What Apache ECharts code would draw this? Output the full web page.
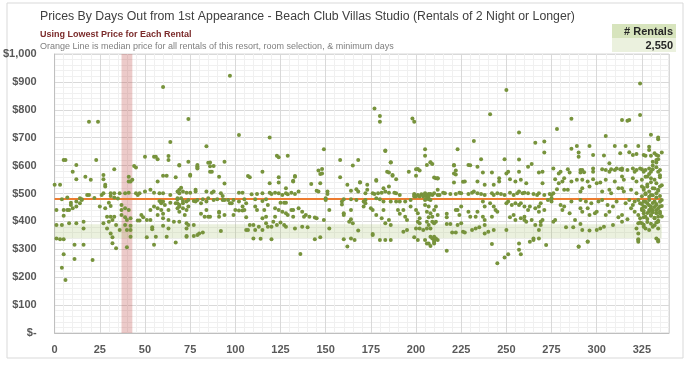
<!DOCTYPE html>
<html>
<head>
<meta charset="utf-8">
<script src="https://cdn.jsdelivr.net/npm/echarts@6/dist/echarts.min.js"></script>
<style>
  html, body { margin: 0; padding: 0; background: #fff; }
  #chart { width: 690px; height: 365px; }
</style>
</head>
<body>
<div id="chart"></div>
<script>
const titleText = 'Prices By Days Out from 1st Appearance - Beach Club Villas Studio (Rentals of 2 Night or Longer)'
const subTitle1 = 'Using Lowest Price for Each Rental'
const subTitle2 = 'Orange Line is median price for all rentals of this resort, room selection, & minimum days'
const rentalCount = '2,550'

const medianPrice = 480
const medianDays = [0, 336]
const typicalBand = [340, 390]
const highlightDays = [37, 43]

// [days out, price]
const rentals = [
  [19,757],[24,757],[97,922],[60,882],[74,767],[64,685],[84,669],[102,710],[33,587],[23,620],[12,602],[45,593],
  [50,632],[55,632],[56,632],[57,623],[63,634],[63,620],[62,564],[60,564],[67,558],[69,600],[75,564],[74,614],
  [79,598],[79,592],[85,610],[86,598],[87,578],[91,560],[94,536],[94,614],
  [5,620],[6,620],[10,578],[17,560],[12,551],[20,549],[0,531],[3,531],[27,566],[27,551],[28,531],[28,525],
  [26,495],[27,501],[7,486],[18,495],[19,495],[14,483],[15,479],[31,501],[31,491],[33,501],[33,486],[36,501],
  [39,501],[41,503],[41,543],[42,543],[43,549],[41,560],[44,599],[45,501],[46,495],[47,501],[57,543],[53,513],
  [50,507],[55,503],[58,501],[60,501],[64,495],[69,513],[69,501],[4,479],[22,484],[35,482],
  [1,441],[5,441],[7,441],[8,441],[9,459],[9,467],[10,447],[12,471],[15,477],[14,465],[12,453],[5,420],
  [1,387],[4,387],[8,393],[12,393],[16,399],[16,375],[1,339],[3,336],[5,336],[11,316],[16,316],[5,282],
  [4,234],[6,190],[11,265],[21,262],[25,453],[28,447],[30,467],[31,455],[29,417],[31,417],[33,417],[30,399],
  [32,405],[34,387],[27,393],[29,375],[31,357],[32,343],[32,322],[34,304],[37,459],[37,441],[39,447],[41,441],
  [37,423],[39,415],[40,405],[42,411],[39,387],[42,384],[42,369],[42,345],[40,307],[36,369],[40,369],[48,423],
  [49,415],[46,403],[47,403],[51,405],[53,405],[54,379],[54,372],[51,343],[56,345],[53,441],[55,453],[57,447],
  [59,441],[60,471],[61,459],[63,441],[58,473],[59,465],[59,471],[57,423],[60,427],[60,411],[63,405],[60,384],
  [63,375],[62,345],[66,399],[64,467],[67,465],[69,459],[68,479],
  [67,324],[55,316],[73,348],[77,348],[83,417],[81,427],[91,431],[99,423],[92,366],
  [69,602],[79,602],[79,590],[86,611],[88,599],[86,578],[75,567],[70,521],[68,507],[71,507],[73,503],[75,503],
  [78,513],[78,507],[84,507],[87,503],[88,507],[92,501],[93,491],[68,483],[70,483],[71,473],[73,471],[74,477],
  [77,473],[79,477],[82,479],[84,471],[85,483],[88,477],[90,479],[93,477],[94,477],[96,477],[68,465],[69,453],
  [71,465],[74,453],[78,471],[81,465],[97,465],[98,465],[99,477],[102,503],[104,503],[102,471],[105,479],
  [107,563],[108,558],[115,578],[119,537],[109,497],[112,498],[111,479],[115,501],[119,503],[120,498],[122,503],
  [115,473],[117,479],[118,459],[124,558],[124,539],[123,635],[124,630],[129,635],[132,543],[133,563],[128,519],
  [131,503],[133,498],[135,507],[124,501],[126,495],[128,501],[129,497],[125,467],[127,467],[128,467],[122,447],
  [124,441],[126,435],[128,429],[129,423],[132,441],[122,417],[121,399],[125,396],[127,387],[128,381],[123,387],
  [120,381],[131,441],[132,417],[135,447],[138,417],[136,283],[133,375],[68,447],[69,435],[71,447],[73,441],
  [72,423],[73,393],[74,387],[73,375],[73,345],[77,387],[69,399],[79,351],[80,357],[82,360],[84,441],[85,417],
  [86,417],[91,435],[91,417],[94,423],[100,441],[104,453],[106,465],[105,441],[106,415],[108,387],[110,387],
  [111,369],[106,369],[107,369],[110,339],[114,338],[115,411],[117,417],[117,393],[118,381],[113,381],[115,369],
  [120,336],[116,441],[112,441],[111,453],[102,439],[104,439],
  [119,701],[149,659],[177,805],[180,778],[180,757],[198,769],[199,757],[183,652],[205,659],[223,659],[146,582],
  [148,588],[147,570],[142,534],[158,620],[158,558],[165,600],[168,620],[169,540],[178,548],[184,578],[185,575],
  [186,612],[187,564],[189,551],[196,578],[201,588],[200,564],[208,612],[209,606],[210,557],[212,554],[221,600],
  [222,568],[226,542],[229,602],[133,560],[132,546],
  [183,654],[186,611],[205,635],[206,602],[202,582],[200,587],[148,572],[147,537],[162,531],[169,539],[173,531],
  [178,546],[187,566],[182,519],[185,525],[145,510],[146,507],[151,507],[151,498],[164,510],[167,515],[168,507],
  [172,501],[173,513],[176,501],[177,498],[179,501],[181,503],[183,507],[185,503],[188,503],[189,501],[191,495],
  [199,498],[199,495],[201,495],[203,497],[205,498],[207,498],[199,489],[200,489],[202,489],[204,489],[206,489],
  [197,477],[194,471],[191,471],[189,471],[186,471],[182,471],[178,483],[180,479],[172,477],[171,471],[167,477],
  [164,479],[160,479],[159,471],[159,461],[150,483],[150,477],
  [137,435],[139,423],[141,417],[144,414],[145,411],[149,405],[152,441],[160,429],[160,423],[164,441],[164,408],
  [163,399],[165,393],[171,453],[172,465],[175,447],[176,441],[178,423],[181,411],[182,441],[185,405],[186,387],
  [183,393],[190,441],[191,427],[193,441],[194,417],[195,405],[197,453],[200,441],[201,429],[202,411],[201,399],
  [202,393],[200,375],[202,375],[204,369],[206,399],[207,415],[205,333],[207,321],[199,343],[201,333],[193,363],
  [195,369],[137,381],[140,379],[152,375],[144,336],[147,343],[160,336],[164,339],[166,333],[162,310],[168,367],
  [176,351],[176,355],[180,333],[183,333],[186,333],
  [232,688],[271,686],[249,623],[208,611],[221,602],[222,582],[221,572],[221,539],[230,601],[234,596],[237,575],
  [242,575],[246,555],[246,543],[250,572],[251,578],[227,543],[234,543],[238,531],[243,531],[252,551],[255,543],
  [257,578],[258,549],[261,537],[262,596],[264,606],[268,575],[270,578],[270,537],[271,647],[211,555],[212,555],
  [205,501],[206,495],[207,489],[208,498],[209,495],[210,501],[212,513],[212,495],[213,495],[215,503],[216,501],
  [219,498],[222,498],[224,503],[225,501],[229,498],[231,503],[232,507],[234,501],[236,498],[238,495],[242,501],
  [243,495],[245,501],[247,498],[249,495],[252,503],[254,495],[256,501],[257,507],[259,501],[260,503],[262,501],
  [265,498],[267,495],[268,501],[271,495],[274,498],[276,501],[206,483],[207,479],[205,477],[208,477],
  [205,459],[207,453],[206,435],[208,429],[209,417],[210,441],[211,453],[212,423],[209,399],[210,393],[210,395],
  [211,399],[207,387],[206,375],[208,375],[208,345],[209,339],[210,345],[210,333],[211,339],[210,327],[210,321],
  [212,333],[208,312],[206,321],[217,427],[217,415],[217,391],[219,391],[222,441],[223,441],[225,453],[224,423],
  [223,387],[225,393],[220,360],[222,360],[226,363],[227,360],[217,295],[229,435],[230,417],[233,417],[234,435],
  [233,375],[231,369],[235,379],[237,471],[238,453],[237,417],[238,405],[238,387],[241,465],[243,453],[244,441],
  [245,435],[242,417],[238,357],[240,363],[243,369],[242,319],[245,250],[249,271],[251,282],[250,369],[252,415],
  [254,423],[255,405],[258,411],[260,405],[257,321],[257,298],[258,282],[250,465],[251,471],[253,459],[255,465],
  [257,459],[258,465],[260,453],[262,441],[263,453],[266,447],[268,453],[269,465],[268,435],[271,441],[273,477],
  [275,471],[260,417],[261,399],[264,405],[266,387],[268,369],[268,339],[265,333],[263,327],[269,399],[269,387],
  [270,405],[276,399],[265,339],[272,315],[290,309],[295,327],[323,333],[323,327],[334,328],
  [250,871],[241,784],[257,719],[266,682],[286,768],[278,731],[305,706],[314,763],[317,761],[318,763],[324,894],
  [324,781],[330,711],[334,701],[334,694],[236,623],[257,622],
  [286,660],[289,670],[296,670],[298,638],[290,647],[290,632],[304,636],[310,670],[313,644],[316,670],[318,648],
  [320,638],[322,642],[323,670],[326,638],[327,635],[329,668],[329,656],[330,635],[332,644],[333,638],[334,635],
  [336,647],[334,623],[333,611],[331,614],[307,608],
  [276,590],[279,572],[280,578],[284,587],[285,575],[291,584],[291,575],[292,584],[293,576],[298,590],[298,578],
  [303,587],[305,584],[307,578],[308,587],[310,584],[311,590],[313,587],[314,590],[314,584],[317,584],[320,590],
  [321,578],[322,584],[324,590],[325,587],[326,578],[327,584],[329,590],[330,578],[331,587],[333,594],[334,578],
  [335,584],
  [277,551],[281,543],[282,555],[279,537],[286,543],[289,549],[292,549],[295,543],[298,551],[300,537],[302,539],
  [305,549],[310,543],[314,561],[315,549],[320,555],[322,543],[325,549],[328,561],[330,555],[332,549],[333,537],
  [335,558],
  [278,515],[282,513],[284,513],[291,507],[292,519],[296,525],[303,507],[307,513],[308,501],[312,519],[314,519],
  [315,507],[319,513],[322,501],[325,525],[326,513],[327,501],[328,525],[329,507],[330,495],[331,519],[333,501],
  [334,513],[335,525],
  [275,495],[275,483],[280,459],[282,453],[286,471],[291,477],[294,471],[297,465],[301,471],[303,477],[306,459],
  [309,453],[311,471],[316,465],[318,477],[320,459],[321,471],[323,477],[324,465],[326,453],[326,471],[328,465],
  [329,477],[330,453],[332,471],[333,459],[335,453],[336,477],
  [277,405],[281,441],[285,429],[288,405],[291,447],[292,435],[295,447],[296,423],[299,429],[300,435],[305,423],
  [307,435],[312,415],[314,423],[317,408],[319,447],[321,435],[323,423],[324,411],[325,441],[326,429],[327,417],
  [329,435],[330,423],[331,441],[332,411],[333,429],[334,417],[335,435],
  [283,379],[287,379],[291,391],[292,369],[296,367],[300,369],[302,375],[304,381],[309,387],[314,399],[322,375],
  [323,393],[325,393],[326,381],[327,375],[329,369],[331,381],[333,396],[334,375],
  [290,310],[295,328],[323,336],[334,333],[333,339],[323,357],
  [325,445],[326,438],[327,452],[328,430],[329,441],[330,447],[331,433],[332,452],[333,440],[334,446],[335,428],
  [336,455],[325,462],[327,470],[329,458],[331,466],[333,462],[335,470],[326,415],[328,409],[330,420],[332,413],
  [334,402],[336,418],[324,396],[326,388],[328,398],[330,392],[332,386],[334,399],[325,490],[327,497],[329,488],
  [331,494],[333,486],[335,491],[326,520],[328,532],[330,540],[332,518],[334,510],[336,530],[327,560],[329,570],
  [331,600],[333,620],[335,565]
]

const chart = echarts.init(document.getElementById('chart'))

const option = {
  backgroundColor: '#fff',
  animation: false,
  textStyle: { fontFamily: 'Liberation Sans' },
  graphic: [
    {
      type: 'rect',
      shape: { x: 7, y: 3, width: 676, height: 355 },
      style: { fill: 'none', stroke: '#d9d9d9', lineWidth: 1 },
      silent: true
    },
    {
      type: 'text', left: 40, top: 11,
      style: { text: titleText, fill: '#404040', font: '12.3px "Liberation Sans"' }
    },
    {
      type: 'text', left: 40, top: 30,
      style: { text: subTitle1, fill: '#7b2b2b', font: 'bold 9px "Liberation Sans"' }
    },
    {
      type: 'text', left: 40, top: 42,
      style: { text: subTitle2, fill: '#7f7f7f', font: '9px "Liberation Sans"' }
    },
    {
      type: 'rect',
      shape: { x: 612, y: 24, width: 64, height: 14 },
      style: { fill: '#d7e4bd' }
    },
    {
      type: 'rect',
      shape: { x: 612, y: 38, width: 64, height: 14 },
      style: { fill: '#ebf1de' }
    },
    {
      type: 'text', right: 17, top: 26,
      style: { text: '# Rentals', fill: '#262626', font: 'bold 11px "Liberation Sans"' }
    },
    {
      type: 'text', right: 17, top: 40,
      style: { text: rentalCount, fill: '#262626', font: 'bold 11px "Liberation Sans"' }
    }
  ],
  grid: { left: 54, right: 21, top: 54, bottom: 32, show: true, borderColor: '#d9d9d9', borderWidth: 1 },
  xAxis: {
    type: 'value',
    min: 0,
    max: 340,
    interval: 25,
    axisLine: { show: true, onZero: false, lineStyle: { color: '#bfbfbf' } },
    axisTick: { show: false },
    axisLabel: { color: '#595959', fontSize: 11, fontWeight: 'bold', margin: 11, showMaxLabel: false },
    splitLine: { show: true, lineStyle: { color: '#d9d9d9' } },
    minorTick: { show: false, splitNumber: 5 },
    minorSplitLine: { show: true, lineStyle: { color: '#f0f0f0' } }
  },
  yAxis: {
    type: 'value',
    min: 0,
    max: 1000,
    interval: 100,
    axisLine: { show: true, lineStyle: { color: '#bfbfbf' } },
    axisTick: { show: false },
    axisLabel: {
      color: '#595959',
      fontSize: 11,
      fontWeight: 'bold',
      margin: 18,
      formatter: (v) => (v === 0 ? '$-' : '$' + v.toLocaleString('en-US'))
    },
    splitLine: { show: true, lineStyle: { color: '#d9d9d9' } },
    minorTick: { show: false, splitNumber: 5 },
    minorSplitLine: { show: true, lineStyle: { color: '#f0f0f0' } }
  },
  series: [
    {
      type: 'scatter',
      data: rentals,
      symbol: 'circle',
      symbolSize: 4,
      itemStyle: { color: '#77933c', opacity: 1 },
      z: 5,
      markArea: {
        silent: true,
        data: [
          [
            { coord: [highlightDays[0], 0], itemStyle: { color: 'rgba(192, 80, 77, 0.3)' } },
            { coord: [highlightDays[1], 1000] }
          ],
          [
            { coord: [medianDays[0], typicalBand[0]], itemStyle: { color: 'rgba(155, 187, 89, 0.2)' } },
            { coord: [medianDays[1], typicalBand[1]] }
          ]
        ]
      },
      markLine: {
        silent: true,
        symbol: 'none',
        label: { show: false },
        lineStyle: { color: '#ed7d31', width: 2, type: 'solid' },
        data: [[{ coord: [medianDays[0], medianPrice] }, { coord: [medianDays[1], medianPrice] }]]
      }
    }
  ]
}

chart.setOption(option)
</script>
</body>
</html>
